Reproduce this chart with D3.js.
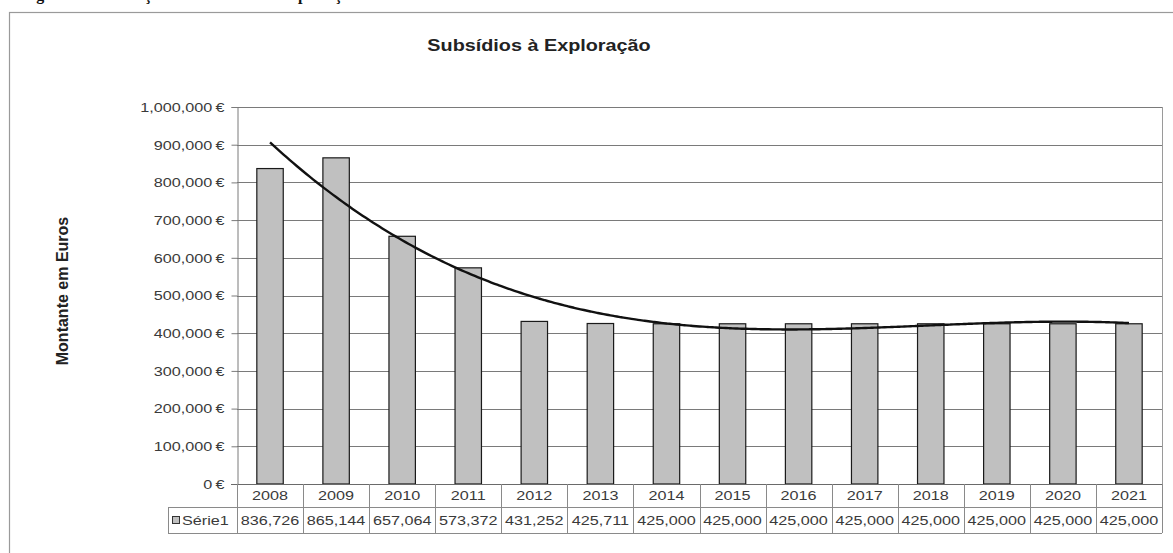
<!DOCTYPE html>
<html>
<head>
<meta charset="utf-8">
<script src="https://cdn.jsdelivr.net/npm/d3@7"></script>
<style>
  html, body { margin: 0; padding: 0; background: #fff; }
  svg { display: block; }
  text { font-family: "Liberation Sans", Arial, sans-serif; }
</style>
</head>
<body>
<svg id="chart" width="1173" height="553"></svg>
<script>
// Subsídios à Exploração, 2008–2021
const years = ["2008","2009","2010","2011","2012","2013","2014","2015","2016","2017","2018","2019","2020","2021"];
const serie1 = [836726, 865144, 657064, 573372, 431252, 425711, 425000, 425000, 425000, 425000, 425000, 425000, 425000, 425000];
const yTicks = [0, 100000, 200000, 300000, 400000, 500000, 600000, 700000, 800000, 900000, 1000000];
const seriesName = "Série1";
const trendOrder = 3;

const svg = d3.select("#chart");
const SX = 1.2;          // horizontal stretch of the chart's lettering
const FS = "13.5px";     // axis / table font size
const TXT = "#3a3a3a";

// place a horizontally stretched text at (x, y)
function stretched(sel, x, y) {
  return sel.attr("transform", `translate(${x},${y}) scale(${SX},1)`).attr("x", 0).attr("y", 0);
}

// caption line above the chart frame (runs off the page top)
svg.append("text")
  .attr("x", 22).attr("y", 0)
  .style("font-family", "'Liberation Serif', 'Times New Roman', serif")
  .style("font-weight", "bold").style("font-size", "16px").attr("fill", "#111")
  .text("Figura 12 – Evolução dos Subsídios à Exploração");

// chart frame
svg.append("rect")
  .attr("x", 9.5).attr("y", 12.5).attr("width", 1200).attr("height", 600)
  .attr("fill", "#fff").attr("stroke", "#9a9a9a").attr("stroke-width", 1.2);

const plot = { left: 237, right: 1162, top: 107, bottom: 484 };

const x = d3.scaleBand().domain(years).range([plot.left, plot.right]).padding(0);
const y = d3.scaleLinear().domain([0, 1000000]).range([plot.bottom, plot.top]);

// gridlines
svg.append("g").selectAll("line").data(yTicks.filter(d => d > 0)).join("line")
  .attr("x1", plot.left).attr("x2", plot.right)
  .attr("y1", d => Math.round(y(d)) + 0.5).attr("y2", d => Math.round(y(d)) + 0.5)
  .attr("stroke", "#7a7a7a").attr("stroke-width", 1);

// plot area right border
svg.append("line")
  .attr("x1", plot.right + 0.5).attr("x2", plot.right + 0.5)
  .attr("y1", plot.top).attr("y2", plot.bottom)
  .attr("stroke", "#9a9a9a");

// y axis
const fmt = d3.format(",.0f");
const yAxis = d3.axisLeft(y).tickValues(yTicks).tickSize(6).tickPadding(7)
  .tickFormat(d => fmt(d) + "\u2009€");
const ya = svg.append("g").attr("transform", `translate(${plot.left + 0.5},0)`).call(yAxis);
ya.select(".domain").attr("stroke", "#7a7a7a");
ya.selectAll(".tick line").attr("stroke", "#7a7a7a");
ya.selectAll(".tick text").attr("fill", TXT).style("font-size", FS)
  .style("font-family", "'Liberation Sans', Arial, sans-serif")
  .attr("x", -13 / SX)
  .attr("transform", `scale(${SX},1)`);

// bars
const barW = x.bandwidth() / 2.5;
svg.append("g").selectAll("rect").data(years).join("rect")
  .attr("x", (d, i) => x(d) + (x.bandwidth() - barW) / 2)
  .attr("y", (d, i) => y(serie1[i]))
  .attr("width", barW)
  .attr("height", (d, i) => y(0) - y(serie1[i]))
  .attr("fill", "#c0c0c0").attr("stroke", "#1a1a1a").attr("stroke-width", 1.2);

// polynomial trendline (least squares on x = 1..n)
function polyFit(xs, ys, order) {
  const m = order + 1;
  const A = Array.from({ length: m }, () => new Array(m + 1).fill(0));
  for (let r = 0; r < m; r++) {
    for (let c = 0; c < m; c++) A[r][c] = d3.sum(xs, v => Math.pow(v, r + c));
    A[r][m] = d3.sum(xs, (v, k) => Math.pow(v, r) * ys[k]);
  }
  for (let i = 0; i < m; i++) {
    let p = i;
    for (let k = i + 1; k < m; k++) if (Math.abs(A[k][i]) > Math.abs(A[p][i])) p = k;
    [A[i], A[p]] = [A[p], A[i]];
    for (let k = i + 1; k < m; k++) {
      const f = A[k][i] / A[i][i];
      for (let c = i; c <= m; c++) A[k][c] -= f * A[i][c];
    }
  }
  const coef = new Array(m).fill(0);
  for (let i = m - 1; i >= 0; i--) {
    let s = A[i][m];
    for (let c = i + 1; c < m; c++) s -= A[i][c] * coef[c];
    coef[i] = s / A[i][i];
  }
  return t => coef.reduce((acc, a, k) => acc + a * Math.pow(t, k), 0);
}
const xs = years.map((d, i) => i + 1);
const trend = polyFit(xs, serie1, trendOrder);
const tScale = d3.scaleLinear().domain([1, years.length])
  .range([x(years[0]) + x.bandwidth() / 2, x(years[years.length - 1]) + x.bandwidth() / 2]);
const samples = d3.range(1, years.length + 0.001, 0.05);
svg.append("path")
  .datum(samples)
  .attr("d", d3.line().x(t => tScale(t)).y(t => y(trend(t))).curve(d3.curveBasis))
  .attr("fill", "none").attr("stroke", "#111").attr("stroke-width", 2.4);

// data table
const rowTop = plot.bottom, rowMid = 507, rowBot = 533, labelLeft = 168;
const tbl = svg.append("g");
const gridC = "#8a8a8a";
tbl.append("line").attr("x1", labelLeft).attr("x2", plot.right).attr("y1", rowMid + 0.5).attr("y2", rowMid + 0.5).attr("stroke", gridC);
tbl.append("line").attr("x1", labelLeft).attr("x2", plot.right).attr("y1", rowBot + 0.5).attr("y2", rowBot + 0.5).attr("stroke", gridC);
// zero baseline
tbl.append("line").attr("x1", plot.left - 6).attr("x2", plot.right).attr("y1", rowTop + 0.5).attr("y2", rowTop + 0.5).attr("stroke", "#6a6a6a");
// vertical dividers
const divs = years.map(d => x(d)).concat([plot.right]);
tbl.selectAll("line.v").data(divs).join("line").attr("class", "v")
  .attr("x1", d => Math.round(d) + 0.5).attr("x2", d => Math.round(d) + 0.5)
  .attr("y1", rowTop).attr("y2", rowBot)
  .attr("stroke", gridC);
tbl.append("line").attr("x1", labelLeft + 0.5).attr("x2", labelLeft + 0.5).attr("y1", rowMid).attr("y2", rowBot).attr("stroke", gridC);
// year labels
tbl.selectAll("text.yr").data(years).join("text").attr("class", "yr")
  .each(function (d) { stretched(d3.select(this), x(d) + x.bandwidth() / 2, 500); })
  .attr("text-anchor", "middle").attr("fill", TXT).style("font-size", FS)
  .text(d => d);
// value labels
tbl.selectAll("text.val").data(serie1).join("text").attr("class", "val")
  .each(function (d, i) { stretched(d3.select(this), x(years[i]) + x.bandwidth() / 2, 525); })
  .attr("text-anchor", "middle").attr("fill", TXT).style("font-size", FS)
  .text(d => fmt(d));
// legend key + series name
tbl.append("rect").attr("x", 172.5).attr("y", 516.5).attr("width", 7).attr("height", 7)
  .attr("fill", "#c0c0c0").attr("stroke", "#333");
stretched(tbl.append("text"), 182, 525).attr("fill", TXT).style("font-size", FS)
  .text(seriesName);

// title
stretched(svg.append("text"), 539, 51).attr("text-anchor", "middle")
  .style("font-weight", "bold").style("font-size", "16.5px").attr("fill", "#222")
  .text("Subsídios à Exploração");

// y axis title
svg.append("text").attr("transform", "translate(68,291) rotate(-90)")
  .attr("text-anchor", "middle").style("font-weight", "bold").style("font-size", "16px").attr("fill", "#222")
  .text("Montante em Euros");
</script>
</body>
</html>
